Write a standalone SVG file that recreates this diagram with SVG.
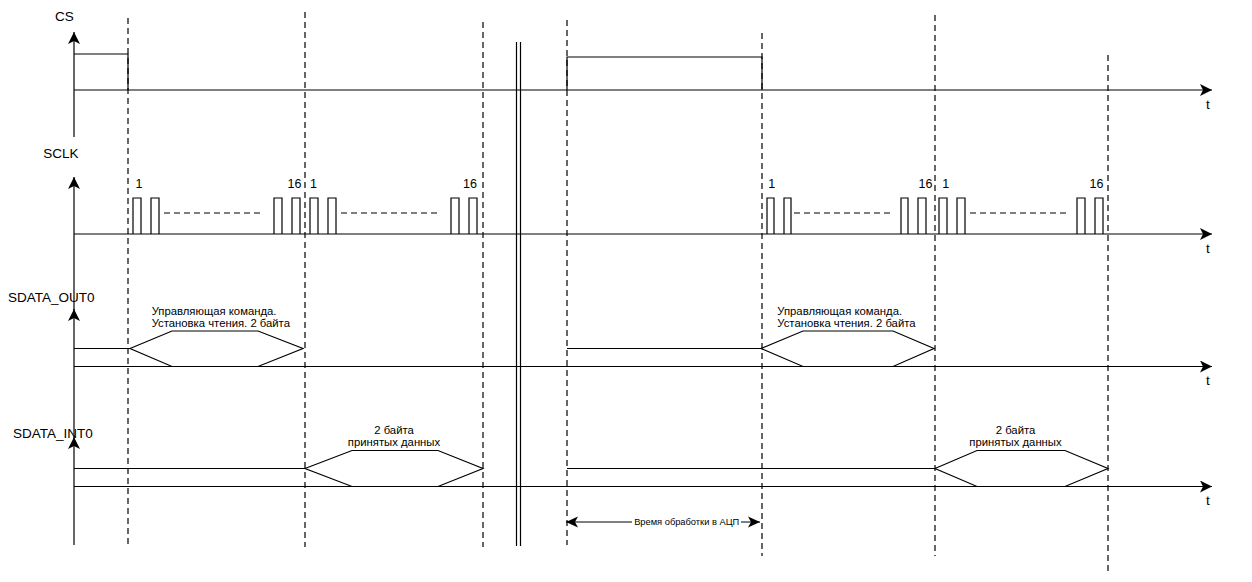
<svg xmlns="http://www.w3.org/2000/svg" width="1252" height="582" viewBox="0 0 1252 582">
<style>
.ln{stroke:#000;stroke-width:1.2;fill:none}
.ds{stroke:#000;stroke-width:1.2;fill:none;stroke-dasharray:6 4}
.lb{font-family:"Liberation Sans",Arial,sans-serif;font-size:13.5px;fill:#000}
.nm{font-family:"Liberation Sans",Arial,sans-serif;font-size:12.5px;fill:#000;text-anchor:middle}
.sm{font-family:"Liberation Sans",Arial,sans-serif;font-size:11.3px;fill:#000}
.tl{font-family:"Liberation Sans",Arial,sans-serif;font-size:13.5px;fill:#000;text-anchor:middle}
.an{font-family:"Liberation Sans",Arial,sans-serif;font-size:9.3px;fill:#000;text-anchor:middle}
</style>
<defs>
<marker id="ar" markerUnits="userSpaceOnUse" viewBox="0 0 12 12" refX="12" refY="6" markerWidth="12" markerHeight="12" orient="auto">
<path d="M0,0 L12,6 L0,12 L3,6 Z" fill="#000"/>
</marker>
<marker id="as" markerUnits="userSpaceOnUse" viewBox="0 0 12 12" refX="12" refY="6" markerWidth="12" markerHeight="12" orient="auto-start-reverse">
<path d="M0,0.5 L12,6 L0,11.5 L3,6 Z" fill="#000"/>
</marker>
</defs>
<rect width="1252" height="582" fill="#fff"/>

<g id="guides">
<line class="ds" x1="128" y1="18" x2="128" y2="547"/>
<line class="ds" x1="305" y1="12" x2="305" y2="547"/>
<line class="ds" x1="483" y1="22" x2="483" y2="547"/>
<line class="ds" x1="567" y1="20" x2="567" y2="545"/>
<line class="ds" x1="762" y1="33" x2="762" y2="556"/>
<line class="ds" x1="935" y1="15" x2="935" y2="556"/>
<line class="ds" x1="1108" y1="55" x2="1108" y2="575"/>
<line class="ln" x1="516.5" y1="42" x2="516.5" y2="546"/>
<line class="ln" x1="520.5" y1="42" x2="520.5" y2="546"/>
</g>

<g id="connectors">
<line class="ln" x1="74" y1="137" x2="74" y2="32" marker-end="url(#ar)"/>
<line class="ln" x1="74" y1="310" x2="74" y2="177" marker-end="url(#ar)"/>
<line class="ln" x1="74" y1="437" x2="74" y2="309" marker-end="url(#ar)"/>
<line class="ln" x1="74" y1="545" x2="74" y2="437" marker-end="url(#ar)"/>
<line class="ln" x1="74" y1="90" x2="1212" y2="90" marker-end="url(#ar)"/>
<line class="ln" x1="74" y1="234" x2="1212" y2="234" marker-end="url(#ar)"/>
<line class="ln" x1="74" y1="366.5" x2="1212" y2="366.5" marker-end="url(#ar)"/>
<line class="ln" x1="74" y1="486.5" x2="1212" y2="486.5" marker-end="url(#ar)"/>
</g>

<g id="cs">
<text class="lb" x="64.5" y="21" text-anchor="middle">CS</text>
<polyline class="ln" points="74,54 128,54 128,90"/>
<polyline class="ln" points="567,90 567,57 762,57 762,90"/>
<text class="tl" x="1208" y="109">t</text>
</g>

<g id="sclk">
<text class="lb" x="61" y="158" text-anchor="middle">SCLK</text>
<path class="ln" d="M133,234V198H141V234 M151,234V198H159V234 M274,234V198H282V234 M292,234V198H300V234 M310,234V198H318V234 M328,234V198H336V234 M451,234V198H459V234 M469,234V198H477V234"/>
<path class="ln" d="M767,234V198H774V234 M784,234V198H791V234 M901,234V198H908V234 M918,234V198H926V234 M939,234V198H947V234 M957,234V198H965V234 M1077,234V198H1085V234 M1095,234V198H1103V234"/>
<line class="ds" x1="164" y1="213" x2="264" y2="213"/>
<line class="ds" x1="341" y1="213" x2="440" y2="213"/>
<line class="ds" x1="794" y1="213" x2="892" y2="213"/>
<line class="ds" x1="970" y1="213" x2="1068" y2="213"/>
<text class="nm" x="139" y="188">1</text>
<text class="nm" x="294.5" y="188">16</text>
<text class="nm" x="313.5" y="188">1</text>
<text class="nm" x="470" y="188">16</text>
<text class="nm" x="771.7" y="188">1</text>
<text class="nm" x="925.5" y="188">16</text>
<text class="nm" x="945.7" y="188">1</text>
<text class="nm" x="1096.5" y="188">16</text>
<text class="tl" x="1208" y="253">t</text>
</g>

<g id="sdata_out0">
<text class="lb" x="8" y="302">SDATA_OUT0</text>
<line class="ln" x1="74" y1="348.5" x2="130" y2="348.5"/>
<polygon class="ln" points="130,348.5 172,331 258,331 303,348.5 258,366.5 172,366.5"/>
<text class="sm" x="151.7" y="315">Управляющая команда.</text>
<text class="sm" x="151.7" y="326.5">Установка чтения. 2 байта</text>
<line class="ln" x1="567" y1="348.5" x2="761" y2="348.5"/>
<polygon class="ln" points="761,348.5 803,331 893,331 934,348.5 893,366.5 803,366.5"/>
<text class="sm" x="777.3" y="315">Управляющая команда.</text>
<text class="sm" x="777.3" y="326.5">Установка чтения. 2 байта</text>
<text class="tl" x="1208" y="385">t</text>
</g>

<g id="sdata_int0">
<text class="lb" x="13" y="438">SDATA_INT0</text>
<line class="ln" x1="74" y1="468.5" x2="305" y2="468.5"/>
<polygon class="ln" points="305,468.5 352,450.5 438,450.5 483,468.5 438,486.5 352,486.5"/>
<text class="sm" x="394" y="434" text-anchor="middle">2 байта</text>
<text class="sm" x="394" y="445.5" text-anchor="middle">принятых данных</text>
<line class="ln" x1="567" y1="468.5" x2="935" y2="468.5"/>
<polygon class="ln" points="935,468.5 977,450.5 1065,450.5 1108,468.5 1065,486.5 977,486.5"/>
<text class="sm" x="1015.5" y="434" text-anchor="middle">2 байта</text>
<text class="sm" x="1015.5" y="445.5" text-anchor="middle">принятых данных</text>
<text class="tl" x="1208" y="505">t</text>
</g>

<g id="adc_time">
<line class="ln" x1="566" y1="522" x2="760" y2="522" marker-start="url(#as)" marker-end="url(#as)"/>
<rect x="632" y="515" width="109" height="13" fill="#fff"/>
<text class="an" x="686.7" y="525.3">Время обработки в АЦП</text>
</g>
</svg>
